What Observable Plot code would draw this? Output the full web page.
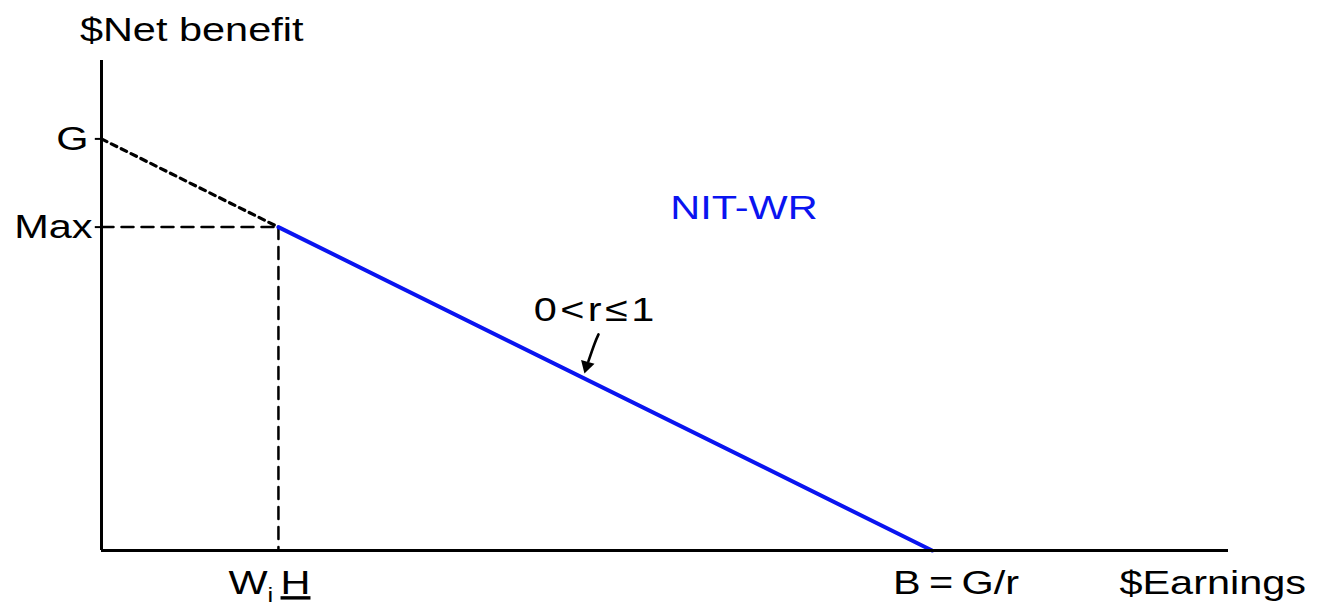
<!DOCTYPE html>
<html>
<head>
<meta charset="utf-8">
<script src="https://cdn.jsdelivr.net/npm/d3@7"></script>
<script src="https://cdn.jsdelivr.net/npm/@observablehq/plot@0.6"></script>
<style>
  html, body { margin: 0; padding: 0; background: #fff; }
  #chart svg { display: block; }
</style>
</head>
<body>
<div id="chart"></div>
<script>
// Key values (abstract units)
const G = 84;        // guarantee (intercept)
const MAX = 66;      // maximum benefit at work requirement
const WH = 15.7;     // W_i * H (earnings at required hours)
const B = 73.7;      // break-even = G/r

const yLabelText = ["G", "Max"];
const yLabelValue = [G, MAX];

const xLabelText = ["WiH", "B\u2009=\u2009G/r"];
const xLabelValue = [WH, B];

const axisTitles = ["$Net benefit", "$Earnings"];
const axisTitleX = [8.0, 98.6];
const axisTitleY = [106.1, -6.7];

const seriesName = ["NIT-WR"];
const seriesNameX = [57.0];
const seriesNameY = [69.8];

const noteText = ["0\u200a<\u200ar\u200a\u2264\u200a1"];
const noteX = [43.7];
const noteY = [49.0];
const arrowShaft = [[44.1, 44.1], [43.75, 42.2], [43.2, 38.6]];
const arrowHead = [[43.05, 37.7]];

const FONT = "Liberation Sans, Arial, Helvetica, sans-serif";
const BLUE = "#0a14f0";

const solidLine = [{x: WH, y: MAX}, {x: B, y: 0}];
const dottedLine = [{x: 0, y: G}, {x: WH, y: MAX}];
const dashH = [{x: 0, y: MAX}, {x: WH, y: MAX}];
const dashV = [{x: WH, y: MAX}, {x: WH, y: 0}];

const yLabels = yLabelText.map((t, i) => ({t, y: yLabelValue[i]}));
const xLabels = xLabelText.map((t, i) => ({t, x: xLabelValue[i]}));
const titles = axisTitles.map((t, i) => ({t, x: axisTitleX[i], y: axisTitleY[i]}));
const series = seriesName.map((t, i) => ({t, x: seriesNameX[i], y: seriesNameY[i]}));
const notes = noteText.map((t, i) => ({t, x: noteX[i], y: noteY[i]}));
const shaft = arrowShaft.map(([x, y]) => ({x, y}));
const head = arrowHead.map(([x, y]) => ({x, y}));

const plot = Plot.plot({
  width: 1324,
  height: 616,
  marginLeft: 101,
  marginRight: 96,
  marginTop: 60,
  marginBottom: 66,
  x: {domain: [0, 100], axis: null},
  y: {domain: [0, 100], axis: null},
  style: {fontFamily: FONT, background: "#fff"},
  marks: [
    Plot.line(dashH, {x: "x", y: "y", stroke: "#000", strokeWidth: 2.5, strokeDasharray: "12,8"}),
    Plot.line(dashV, {x: "x", y: "y", stroke: "#000", strokeWidth: 2.5, strokeDasharray: "12,8"}),
    Plot.line(dottedLine, {x: "x", y: "y", stroke: "#000", strokeWidth: 3.2, strokeDasharray: "6,5"}),
    Plot.line(solidLine, {x: "x", y: "y", stroke: BLUE, strokeWidth: 4}),
    Plot.ruleY(yLabels, {y: "y", x1: -0.55, x2: 0, stroke: "#000", strokeWidth: 2}),
    Plot.ruleX([0], {stroke: "#000", strokeWidth: 3}),
    Plot.ruleY([0], {stroke: "#000", strokeWidth: 3}),
    Plot.line(shaft, {x: "x", y: "y", curve: "natural", stroke: "#000", strokeWidth: 2.6}),
    Plot.dot(head, {x: "x", y: "y", symbol: "triangle", r: 5.2, rotate: 196, fill: "#000", stroke: "none"}),
    Plot.text(yLabels.filter(d => d.t === "G"), {x: 0, y: "y", text: "t", dx: -13, textAnchor: "end", fontSize: 34, fill: "#000", className: "lbl"}),
    Plot.text(yLabels.filter(d => d.t === "Max"), {x: 0, y: "y", text: "t", dx: -9, textAnchor: "end", fontSize: 34, fill: "#000", className: "lbl"}),
    Plot.text(xLabels.filter(d => d.t === "WiH"), {x: "x", y: 0, text: "t", dx: -9, dy: 33, fontSize: 34, fill: "#000", className: "lbl"}),
    Plot.text(xLabels.filter(d => d.t !== "WiH"), {x: "x", y: 0, text: "t", dx: 24, dy: 33, fontSize: 34, fill: "#000", className: "lbl"}),
    Plot.text(titles, {x: "x", y: "y", text: "t", fontSize: 34, fill: "#000", className: "lbl"}),
    Plot.text(series, {x: "x", y: "y", text: "t", fontSize: 34, fill: BLUE, className: "lbl"}),
    Plot.text(notes, {x: "x", y: "y", text: "t", fontSize: 34, fill: "#000", className: "lbl"})
  ]
});
document.getElementById("chart").appendChild(plot);

// Widen glyphs (the reference lettering is horizontally stretched), add subscript/underline
plot.querySelectorAll(".lbl text").forEach((el) => {
  const tr = el.getAttribute("transform") || "";
  if (!/scale/.test(tr)) el.setAttribute("transform", tr + " scale(1.22,1)");
  if (el.textContent === "WiH") {
    el.textContent = "";
    const ns = "http://www.w3.org/2000/svg";
    const w = document.createElementNS(ns, "tspan"); w.textContent = "W";
    const i = document.createElementNS(ns, "tspan"); i.textContent = "i";
    i.setAttribute("font-size", 21); i.setAttribute("dy", "8");
    const h = document.createElementNS(ns, "tspan"); h.textContent = "H";
    h.setAttribute("dx", "6"); h.setAttribute("dy", "-8"); h.setAttribute("text-decoration", "underline");
    el.append(w, i, h);
  }
});
</script>
</body>
</html>
